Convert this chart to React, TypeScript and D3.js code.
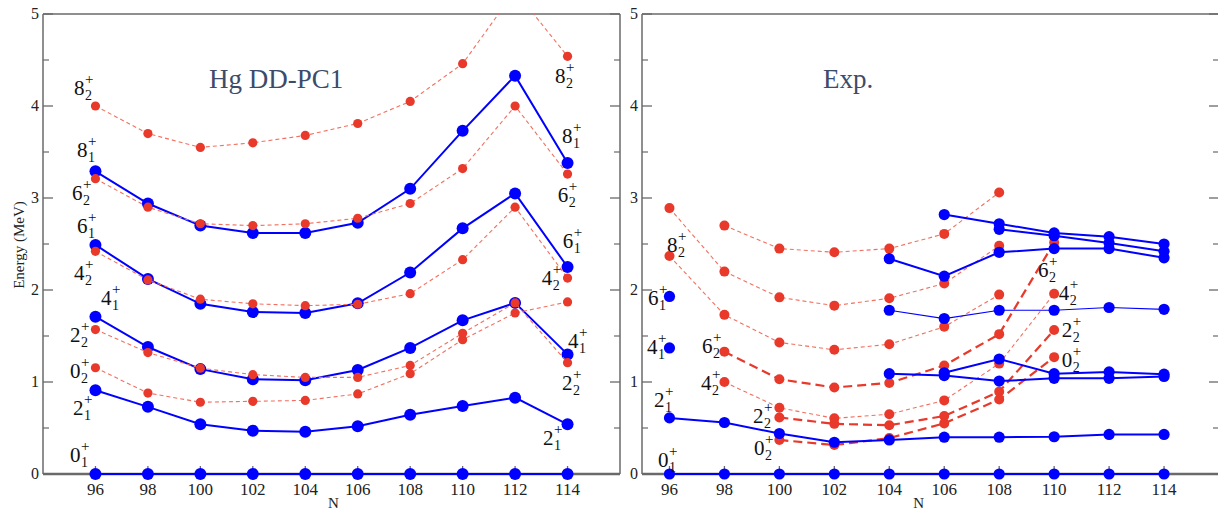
import React from "react";
import * as d3 from "d3";

// Neutron numbers of the Hg isotopes shown
const N_VALUES = [96, 98, 100, 102, 104, 106, 108, 110, 112, 114];
const E_MAJOR = [0, 1, 2, 3, 4, 5];
const E_MINOR = [0.5, 1.5, 2.5, 3.5, 4.5];

// DD-PC1 calculation (MeV)
const dd01 = [0, 0, 0, 0, 0, 0, 0, 0, 0, 0];
const dd21 = [0.91, 0.73, 0.54, 0.47, 0.46, 0.52, 0.645, 0.74, 0.83, 0.54];
const dd41 = [1.71, 1.38, 1.14, 1.03, 1.02, 1.13, 1.37, 1.67, 1.86, 1.3];
const dd61 = [2.49, 2.12, 1.85, 1.76, 1.75, 1.855, 2.19, 2.67, 3.05, 2.25];
const dd81 = [3.29, 2.94, 2.7, 2.62, 2.62, 2.73, 3.1, 3.73, 4.33, 3.38];
const dd02 = [1.155, 0.88, 0.78, 0.79, 0.8, 0.87, 1.09, 1.46, 1.75, 1.87];
const dd22 = [1.57, 1.32, 1.15, 1.08, 1.05, 1.05, 1.18, 1.53, 1.86, 1.21];
const dd42 = [2.42, 2.11, 1.9, 1.85, 1.83, 1.845, 1.96, 2.33, 2.9, 2.13];
const dd62 = [3.21, 2.9, 2.72, 2.7, 2.72, 2.78, 2.94, 3.32, 4.0, 3.26];
const dd82 = [4.0, 3.7, 3.55, 3.6, 3.68, 3.81, 4.05, 4.46, 5.25, 4.54];

// Experimental levels (MeV)
const ex01 = [0, 0, 0, 0, 0, 0, 0, 0, 0, 0];
const ex21 = [0.61, 0.56, 0.44, 0.345, 0.37, 0.4, 0.4, 0.405, 0.43, 0.43];
const ex41 = [1.37, null, null, null, 1.09, 1.07, 1.01, 1.04, 1.04, 1.06];
const ex41b = [null, null, null, null, null, 1.1, 1.25, 1.09, 1.11, 1.085];
const ex61 = [1.93, null, null, null, 1.78, 1.69, 1.78, 1.78, 1.81, 1.79];
const ex81 = [null, null, null, null, 2.34, 2.15, 2.41, 2.45, 2.45, 2.35];
const ex101 = [null, null, null, null, null, 2.82, 2.72, 2.62, 2.58, 2.5];
const ex121 = [null, null, null, null, null, null, 2.66, 2.59, 2.51, 2.42];
const exA = [2.89, 2.2, 1.92, 1.83, 1.91, 2.07, 2.48, null, null, null];
const exB = [null, 2.7, 2.45, 2.41, 2.45, 2.61, 3.06, null, null, null];
const ex82 = [2.37, 1.73, 1.43, 1.35, 1.41, 1.6, 1.95, null, null, null];
const ex62 = [null, 1.33, 1.03, 0.94, 0.99, 1.18, 1.52, 2.515, null, null];
const ex42 = [null, 1.0, 0.72, 0.605, 0.65, 0.8, 1.2, 1.96, null, null];
const ex22 = [null, null, 0.615, 0.545, 0.53, 0.63, 0.895, 1.565, null, null];
const ex02 = [null, null, 0.37, 0.315, 0.39, 0.55, 0.81, 1.27, null, null];

// Level labels: spin, index, and position in (N, E) units
const ddLabels = [
  { J: "8", k: "2", N: 95.18, E: 4.12 },
  { J: "8", k: "1", N: 95.3, E: 3.45 },
  { J: "6", k: "2", N: 95.11, E: 2.98 },
  { J: "6", k: "1", N: 95.3, E: 2.62 },
  { J: "4", k: "2", N: 95.18, E: 2.11 },
  { J: "4", k: "1", N: 96.21, E: 1.84 },
  { J: "2", k: "2", N: 95.03, E: 1.43 },
  { J: "0", k: "2", N: 95.03, E: 1.04 },
  { J: "2", k: "1", N: 95.14, E: 0.64 },
  { J: "0", k: "1", N: 95.03, E: 0.13 },
  { J: "8", k: "2", N: 113.52, E: 4.25 },
  { J: "8", k: "1", N: 113.79, E: 3.6 },
  { J: "6", k: "2", N: 113.63, E: 2.96 },
  { J: "6", k: "1", N: 113.82, E: 2.46 },
  { J: "4", k: "2", N: 113.02, E: 2.05 },
  { J: "4", k: "1", N: 114.02, E: 1.37 },
  { J: "2", k: "2", N: 113.79, E: 0.91 },
  { J: "2", k: "1", N: 113.06, E: 0.32 },
];
const exLabels = [
  { J: "8", k: "2", N: 95.91, E: 2.41 },
  { J: "6", k: "1", N: 95.22, E: 1.84 },
  { J: "4", k: "1", N: 95.18, E: 1.3 },
  { J: "2", k: "1", N: 95.44, E: 0.73 },
  { J: "0", k: "1", N: 95.58, E: 0.08 },
  { J: "6", k: "2", N: 97.18, E: 1.32 },
  { J: "4", k: "2", N: 97.15, E: 0.91 },
  { J: "2", k: "2", N: 99.04, E: 0.55 },
  { J: "0", k: "2", N: 99.08, E: 0.21 },
  { J: "6", k: "2", N: 109.41, E: 2.14 },
  { J: "4", k: "2", N: 110.17, E: 1.89 },
  { J: "2", k: "2", N: 110.28, E: 1.49 },
  { J: "0", k: "2", N: 110.28, E: 1.16 },
];

type Vals = (number | null)[];
type Kind = "blue" | "blueThin" | "redThin" | "redThick";
type SeriesDef = { values: Vals; kind: Kind };

const BLUE = "#0000ff";
const RED = "#e8392a";
const AXIS = "#6a6a6a";
const SERIF = "'Liberation Serif', 'Times New Roman', serif";

const ddSeries: SeriesDef[] = [
  { values: dd01, kind: "blue" },
  { values: dd21, kind: "blue" },
  { values: dd41, kind: "blue" },
  { values: dd61, kind: "blue" },
  { values: dd81, kind: "blue" },
  { values: dd02, kind: "redThin" },
  { values: dd22, kind: "redThin" },
  { values: dd42, kind: "redThin" },
  { values: dd62, kind: "redThin" },
  { values: dd82, kind: "redThin" },
];

const exSeries: SeriesDef[] = [
  { values: exA, kind: "redThin" },
  { values: exB, kind: "redThin" },
  { values: ex82, kind: "redThin" },
  { values: ex62, kind: "redThick" },
  { values: ex42, kind: "redThin" },
  { values: ex22, kind: "redThick" },
  { values: ex02, kind: "redThick" },
  { values: ex01, kind: "blue" },
  { values: ex21, kind: "blue" },
  { values: ex41, kind: "blue" },
  { values: ex41b, kind: "blue" },
  { values: ex61, kind: "blueThin" },
  { values: ex81, kind: "blue" },
  { values: ex101, kind: "blue" },
  { values: ex121, kind: "blue" },
];

const yScale = d3.scaleLinear().domain([0, 5]).range([474, 14]);

function lineStyle(kind: Kind) {
  switch (kind) {
    case "blue":
      return { stroke: BLUE, strokeWidth: 2, strokeDasharray: undefined };
    case "blueThin":
      return { stroke: BLUE, strokeWidth: 1.2, strokeDasharray: undefined };
    case "redThin":
      return { stroke: "#f2705f", strokeWidth: 1.1, strokeDasharray: "4,3" };
    case "redThick":
      return { stroke: RED, strokeWidth: 2.2, strokeDasharray: "9,5" };
  }
}

function LevelLabel({ x, y, J, k }: { x: number; y: number; J: string; k: string }) {
  return (
    <g fontFamily={SERIF} fill="#111">
      <text x={x} y={y} fontSize={21}>
        {J}
      </text>
      <text x={x + 11} y={y - 11} fontSize={15}>
        +
      </text>
      <text x={x + 11} y={y + 5} fontSize={14}>
        {k}
      </text>
    </g>
  );
}

type PanelProps = {
  id: string;
  x: d3.ScaleLinear<number, number>;
  series: SeriesDef[];
  labels: { J: string; k: string; N: number; E: number }[];
  title: string;
  titleX: number;
  blueRadius: number;
  redRadius: number;
  tickLabelX: number;
};

function Panel({ id, x, series, labels, title, titleX, blueRadius, redRadius, tickLabelX }: PanelProps) {
  const [x0, x1] = x.range();
  const yTop = yScale(5);
  const yBot = yScale(0);
  const line = d3
    .line<[number, number | null]>()
    .defined((d) => d[1] != null)
    .x((d) => x(d[0]))
    .y((d) => yScale(d[1] as number));

  return (
    <g>
      <defs>
        <clipPath id={id}>
          <rect x={x0 - 8} y={yTop} width={x1 - x0 + 16} height={yBot - yTop + 12} />
        </clipPath>
      </defs>

      {/* frame */}
      <line x1={x0} x2={x1} y1={yTop} y2={yTop} stroke={AXIS} strokeWidth={1.5} />
      <line x1={x0} x2={x0} y1={yTop} y2={yBot} stroke={AXIS} strokeWidth={1.5} />
      <line x1={x1} x2={x1} y1={yTop} y2={yBot} stroke={AXIS} strokeWidth={1.5} />
      <line x1={x0} x2={x1} y1={yBot} y2={yBot} stroke={AXIS} strokeWidth={2.5} />

      {/* y ticks */}
      {E_MAJOR.map((v) => (
        <g key={"M" + v}>
          <line x1={x0} x2={x0 + 10} y1={yScale(v)} y2={yScale(v)} stroke={AXIS} strokeWidth={1.3} />
          <line x1={x1} x2={x1 - 10} y1={yScale(v)} y2={yScale(v)} stroke={AXIS} strokeWidth={1.3} />
          <text
            x={tickLabelX}
            y={yScale(v) + 5}
            fontSize={16}
            fontFamily={SERIF}
            textAnchor="end"
            fill="#222"
          >
            {v}
          </text>
        </g>
      ))}
      {E_MINOR.map((v) => (
        <g key={"m" + v}>
          <line x1={x0} x2={x0 + 6} y1={yScale(v)} y2={yScale(v)} stroke={AXIS} strokeWidth={1.2} />
          <line x1={x1} x2={x1 - 6} y1={yScale(v)} y2={yScale(v)} stroke={AXIS} strokeWidth={1.2} />
        </g>
      ))}

      {/* x ticks */}
      {N_VALUES.map((n) => (
        <g key={"x" + n}>
          <line x1={x(n)} x2={x(n)} y1={yBot} y2={yBot - 8} stroke={AXIS} strokeWidth={1.3} />
          <text x={x(n)} y={495} fontSize={17} fontFamily={SERIF} textAnchor="middle" fill="#222">
            {n}
          </text>
        </g>
      ))}
      <text x={(x(104) + x(106)) / 2 + 2} y={508} fontSize={15} fontFamily={SERIF} textAnchor="middle" fill="#222">
        N
      </text>

      {/* title */}
      <text x={titleX} y={88} fontSize={27} fontFamily={SERIF} fill="#3d4b6b">
        {title}
      </text>

      {/* levels */}
      <g clipPath={`url(#${id})`}>
        {series.map((s, i) => {
          const pts: [number, number | null][] = N_VALUES.map((n, j) => [n, s.values[j]]);
          const st = lineStyle(s.kind);
          const isBlue = s.kind === "blue" || s.kind === "blueThin";
          return (
            <g key={i}>
              <path
                d={line(pts) || ""}
                fill="none"
                stroke={st.stroke}
                strokeWidth={st.strokeWidth}
                strokeDasharray={st.strokeDasharray}
              />
              {pts
                .filter((p) => p[1] != null)
                .map((p, j) => (
                  <circle
                    key={j}
                    cx={x(p[0])}
                    cy={yScale(p[1] as number)}
                    r={isBlue ? blueRadius : redRadius}
                    fill={isBlue ? BLUE : RED}
                  />
                ))}
            </g>
          );
        })}
      </g>

      {labels.map((l, i) => (
        <LevelLabel key={i} x={x(l.N)} y={yScale(l.E)} J={l.J} k={l.k} />
      ))}
    </g>
  );
}

export default function App() {
  const leftX = d3.scaleLinear().domain([94, 116]).range([43, 620]);
  const rightX = d3.scaleLinear().domain([95, 116]).range([642, 1219]);
  return (
    <svg
      width={1218}
      height={511}
      style={{ position: "absolute", left: 0, top: 0, background: "#fff", display: "block" }}
    >
      <rect x={0} y={0} width={1218} height={511} fill="#fff" />
      <text
        transform="translate(24,245) rotate(-90)"
        fontSize={15}
        fontFamily={SERIF}
        textAnchor="middle"
        fill="#222"
      >
        Energy (MeV)
      </text>
      <Panel
        id="clip-dd"
        x={leftX}
        series={ddSeries}
        labels={ddLabels}
        title="Hg DD-PC1"
        titleX={209}
        blueRadius={6}
        redRadius={4.6}
        tickLabelX={39}
      />
      <Panel
        id="clip-exp"
        x={rightX}
        series={exSeries}
        labels={exLabels}
        title="Exp."
        titleX={823}
        blueRadius={5.6}
        redRadius={5}
        tickLabelX={638}
      />
    </svg>
  );
}
